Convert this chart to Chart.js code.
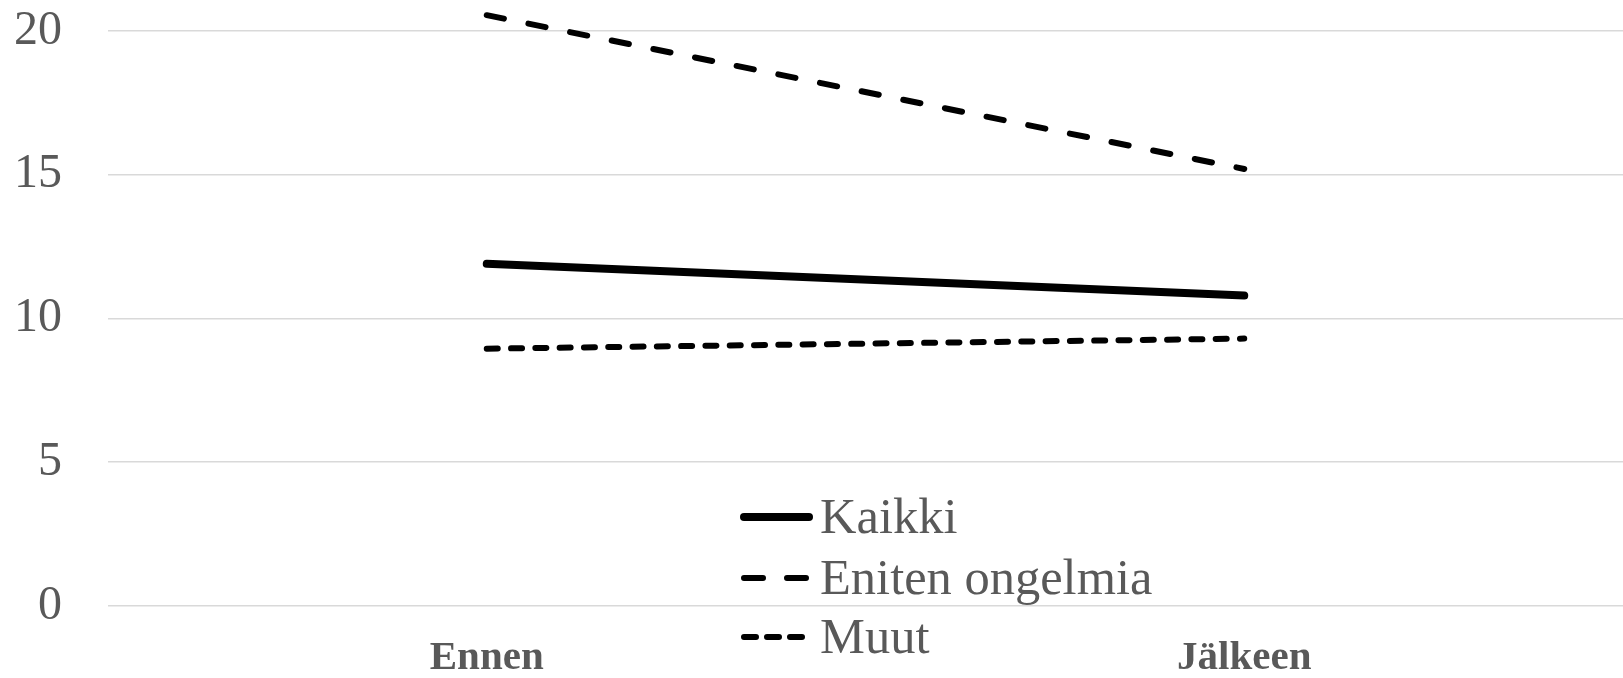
<!DOCTYPE html>
<html>
<head>
<meta charset="utf-8">
<script src="https://cdn.jsdelivr.net/npm/chart.js@4/dist/chart.umd.min.js"></script>
<style>
  html, body { margin: 0; padding: 0; background: #ffffff; }
  #wrap { width: 1623px; height: 678px; }
</style>
</head>
<body>
<div id="wrap"><canvas id="c" width="1623" height="678"></canvas></div>
<script>
// ---- data ----
const categories = ["Ennen", "Jälkeen"];
const seriesNames = ["Kaikki", "Eniten ongelmia", "Muut"];
const kaikki = [11.9, 10.8];
const eniten = [20.55, 15.2];
const muut = [8.95, 9.3];
const yTicks = [0, 5, 10, 15, 20];

const FONT = "'Liberation Serif', 'Times New Roman', serif";
const TEXT = "#595959";

// Legend drawn inside the plot, using the datasets' own styles
const insideLegend = {
  id: 'insideLegend',
  afterDraw(chart) {
    const ctx = chart.ctx;
    const x0 = 744, x1 = 809, textX = 820;
    const rows = [517, 578, 637];
    chart.data.datasets.forEach((ds, i) => {
      const y = rows[i];
      ctx.save();
      ctx.strokeStyle = ds.borderColor;
      ctx.lineWidth = ds.borderWidth;
      ctx.lineCap = 'round';
      ctx.setLineDash(ds.legendDash || []);
      ctx.beginPath();
      ctx.moveTo(x0, y);
      ctx.lineTo(x1, y);
      ctx.stroke();
      ctx.setLineDash([]);
      ctx.fillStyle = TEXT;
      ctx.font = "50.5px " + FONT;
      ctx.textBaseline = 'alphabetic';
      ctx.textAlign = 'left';
      ctx.fillText(ds.label, textX, y + 16);
      ctx.restore();
    });
  }
};

new Chart(document.getElementById('c'), {
  type: 'line',
  data: {
    labels: categories,
    datasets: [
      { label: seriesNames[0], data: kaikki, borderColor: '#000000', borderWidth: 8,
        borderCapStyle: 'round', pointRadius: 0, fill: false, legendDash: [] },
      { label: seriesNames[1], data: eniten, borderColor: '#000000', borderWidth: 6,
        borderDash: [17.5, 25], borderCapStyle: 'round', pointRadius: 0, fill: false, legendDash: [19, 24] },
      { label: seriesNames[2], data: muut, borderColor: '#000000', borderWidth: 6,
        borderDash: [11, 13.3], borderCapStyle: 'round', pointRadius: 0, fill: false, legendDash: [12, 11] }
    ]
  },
  options: {
    responsive: false,
    animation: false,
    layout: { padding: 0 },
    plugins: { legend: { display: false }, tooltip: { enabled: false } },
    scales: {
      x: {
        offset: true,
        grid: { display: false, drawTicks: false },
        border: { display: false },
        ticks: { color: TEXT, font: { family: FONT, size: 41, weight: 'bold' }, padding: 28, maxRotation: 0 },
        afterFit(s) { s.height = 72; }
      },
      y: {
        min: 0,
        max: 21.078,
        grid: { color: '#d9d9d9', lineWidth: 1.5, drawTicks: false },
        border: { display: false },
        afterBuildTicks(s) { s.ticks = yTicks.map(v => ({ value: v })); },
        ticks: {
          color: TEXT,
          font: { family: FONT, size: 48 },
          padding: 46
        },
        afterFit(s) { s.width = 108; s.paddingTop = 0; s.paddingBottom = 0; }
      }
    }
  },
  plugins: [insideLegend]
});
</script>
</body>
</html>
